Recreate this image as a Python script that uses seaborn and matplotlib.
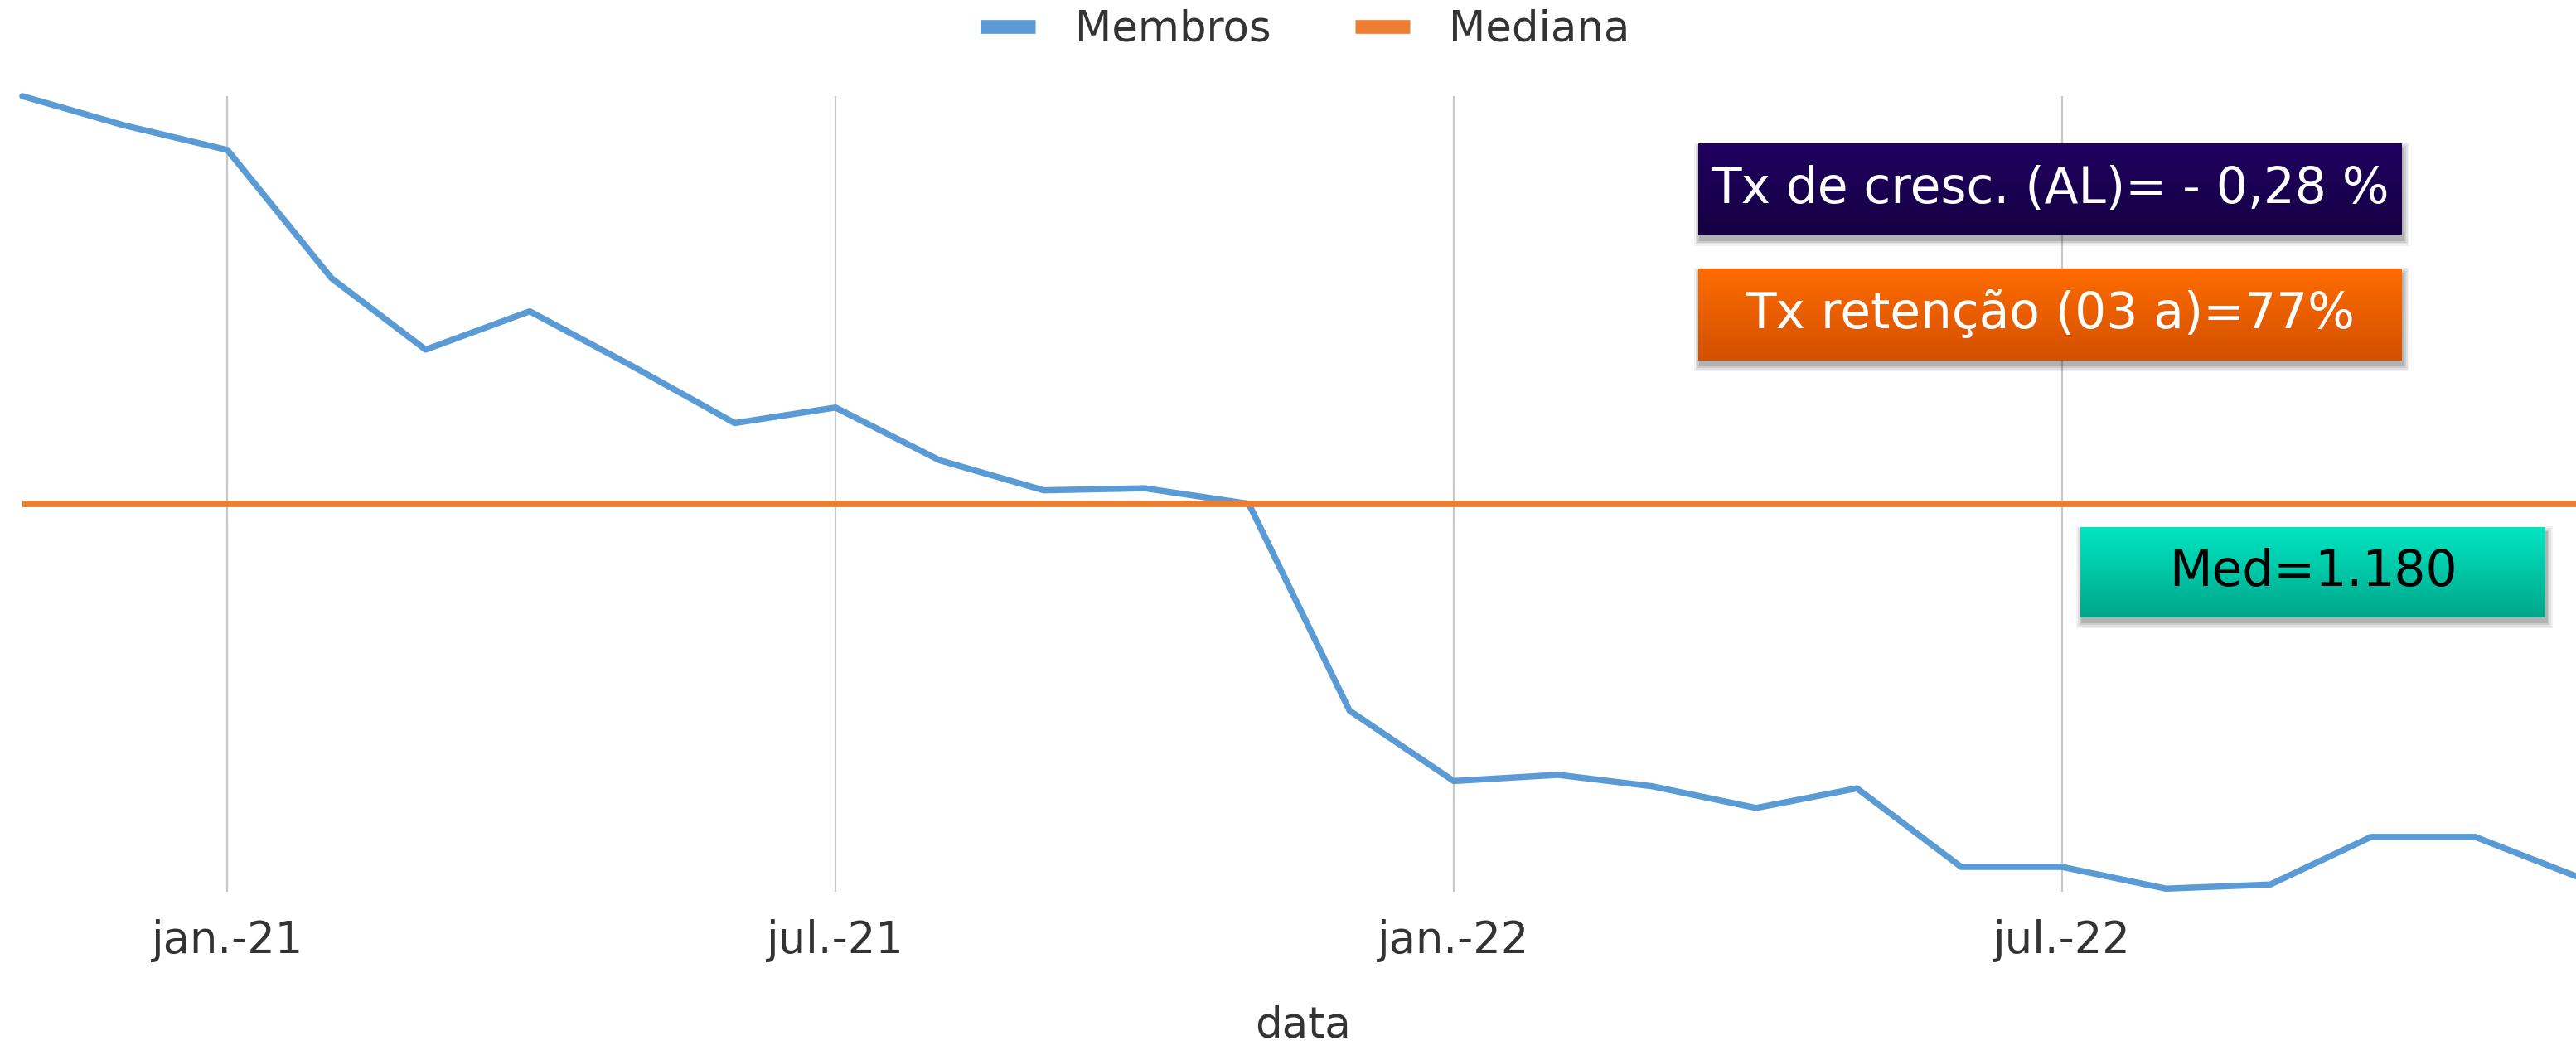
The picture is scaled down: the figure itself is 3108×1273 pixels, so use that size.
import matplotlib
matplotlib.use("Agg")
import matplotlib.pyplot as plt
import seaborn as sns
import pandas as pd
import numpy as np
from matplotlib.patches import Rectangle
from matplotlib.lines import Line2D
from matplotlib.colors import LinearSegmentedColormap

# ---------------- data ----------------
months = ["2020-11-01", "2020-12-01",
          "2021-01-01", "2021-02-01", "2021-03-01", "2021-04-01", "2021-05-01", "2021-06-01",
          "2021-07-01", "2021-08-01", "2021-09-01", "2021-10-01", "2021-11-01", "2021-12-01",
          "2022-01-01", "2022-02-01", "2022-03-01", "2022-04-01", "2022-05-01", "2022-06-01",
          "2022-07-01", "2022-08-01", "2022-09-01", "2022-10-01", "2022-11-01", "2022-12-01"]
members = [1574, 1546,
           1522, 1398, 1329, 1366, 1314, 1258,
           1273, 1222, 1193, 1195, 1180, 980,
           912, 918, 907, 886, 905, 829,
           829, 808, 812, 858, 858, 820]
median_value = 1180
series_names = ["Membros", "Mediana"]
tick_dates = ["2021-01-01", "2021-07-01", "2022-01-01", "2022-07-01"]
tick_labels = ["jan.-21", "jul.-21", "jan.-22", "jul.-22"]
x_label = "data"
box_texts = ["Tx de cresc. (AL)= - 0,28 %", "Tx retenção (03 a)=77%", "Med=1.180"]

# ---------------- style ----------------
sns.set_theme(style="white")
plt.rcParams["font.family"] = ["DejaVu Sans"]

BLUE = "#5B9BD5"
ORANGE = "#ED7D31"
TEXT = "#333333"

W, H = 3108, 1273
fig = plt.figure(figsize=(W / 100, H / 100), dpi=100)
fig.patch.set_facecolor("white")


def fx(px):
    return px / W


def fy(py):
    return 1 - py / H


ax = fig.add_axes([fx(27), fy(1076), fx(3108) - fx(27), fy(116) - fy(1076)])
ax.set_zorder(0)

df = pd.DataFrame({"data": pd.to_datetime(months), "Membros": members})
sns.lineplot(data=df, x="data", y="Membros", ax=ax, color=BLUE, linewidth=5.4,
             legend=False, clip_on=False, zorder=3)
ax.axhline(median_value, color=ORANGE, linewidth=5.6, zorder=4)

ax.set_xlim(pd.Timestamp(months[0]), pd.Timestamp(months[-1]))
ax.set_ylim(805, max(members))

ax.set_xticks(pd.to_datetime(tick_dates))
ax.set_xticklabels(tick_labels)
ax.set_yticks([])
ax.set_ylabel("")
ax.grid(axis="x", color="#C8C8C8", linewidth=1.6)
ax.grid(axis="y", visible=False)
ax.set_axisbelow(True)
for s in ax.spines.values():
    s.set_visible(False)
ax.tick_params(axis="x", length=0, pad=24, labelsize=38, labelcolor=TEXT)
ax.set_xlabel(x_label, fontsize=37, color=TEXT)
ax.xaxis.set_label_coords(0.5015, -0.142)

# legend
handles = [Line2D([0], [0], color=BLUE, lw=12, solid_capstyle="butt"),
           Line2D([0], [0], color=ORANGE, lw=12, solid_capstyle="butt")]
fig.legend(handles, series_names, loc="center", bbox_to_anchor=(fx(1575), fy(36)),
           bbox_transform=fig.transFigure, ncol=2, frameon=False, fontsize=37,
           handlelength=1.28, handletextpad=0.93, columnspacing=1.97, labelcolor=TEXT)


# annotation boxes
def gradient_box(x0, x1, y0, y1, top, bottom, text, tcolor):
    # soft shadow
    for grow, alpha in [(7, 0.05), (5, 0.07), (3, 0.09), (1, 0.12)]:
        r = Rectangle((fx(x0 + 2 - grow), fy(y1 + 6 + grow)),
                      fx(x1 - x0 + 2 * grow), fy(0) - fy(y1 - y0 + 2 * grow),
                      transform=fig.transFigure, facecolor="black", alpha=alpha,
                      edgecolor="none", zorder=1)
        fig.patches.append(r)
    bax = fig.add_axes([fx(x0), fy(y1), fx(x1) - fx(x0), fy(y0) - fy(y1)])
    bax.set_zorder(2)
    cmap = LinearSegmentedColormap.from_list("g", [top, bottom])
    grad = np.linspace(0, 1, 256)[:, None]
    bax.imshow(grad, aspect="auto", cmap=cmap, extent=[0, 1, 0, 1], origin="upper")
    bax.set_xlim(0, 1)
    bax.set_ylim(0, 1)
    bax.axis("off")
    bax.text(0.5, 0.5, text, ha="center", va="center", fontsize=43, color=tcolor,
             transform=bax.transAxes)


gradient_box(2049, 2898, 173, 284, "#200060", "#150042", box_texts[0], "white")
gradient_box(2049, 2898, 324, 435, "#FF6C00", "#D35000", box_texts[1], "white")
gradient_box(2510, 3071, 636, 745, "#00E6C2", "#00A68A", box_texts[2], "black")

fig.savefig("out.png", dpi=100)
